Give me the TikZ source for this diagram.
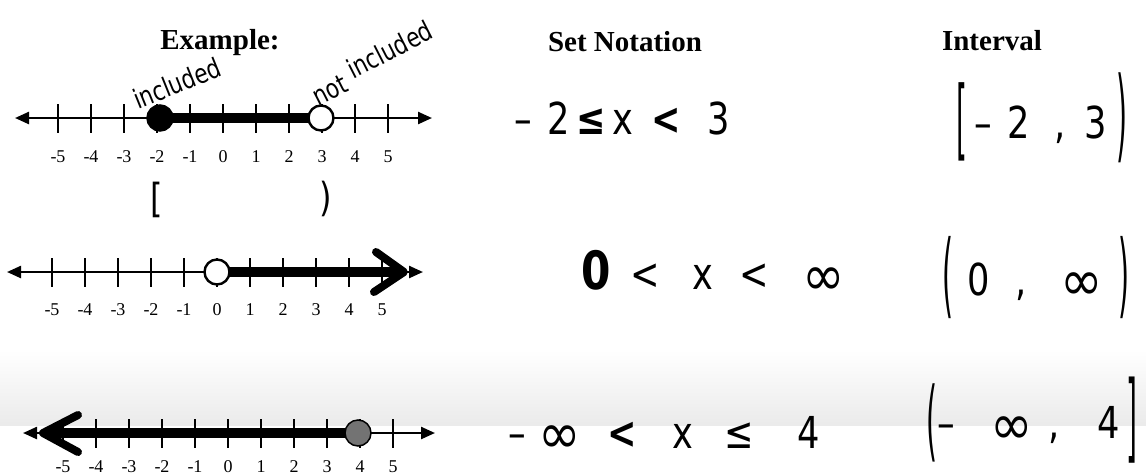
\documentclass[tikz,border=0pt]{standalone}
\usepackage{fontspec}
\setmainfont{Liberation Serif}
\newfontfamily\handfont{DejaVu Sans}[FakeStretch=0.8]
\usetikzlibrary{arrows.meta}

% tall handwritten brackets
\newcommand{\tallbr}[2][2]{\raisebox{-.26em}{\scalebox{0.8}[#1]{#2}}}
% wide handwritten infinity
\newcommand{\infy}{\raisebox{-.12em}{\scalebox{1.45}[1.3]{∞}}}

\tikzset{
  axis/.style={line width=2.4pt, {Triangle[length=14pt,width=12pt]}-{Triangle[length=14pt,width=12pt]}},
  tickmark/.style={line width=2pt},
  numlabel/.style={font=\fontsize{18}{18}\selectfont, inner sep=0pt},
  heading/.style={font=\fontsize{29}{29}\selectfont\bfseries, inner sep=0pt},
  hand/.style={font=\handfont\fontsize{44}{44}\selectfont, inner sep=0pt},
  note/.style={font=\handfont\fontsize{27}{27}\selectfont, inner sep=0pt},
  shaded/.style={line width=10pt},
  bigtip/.style={line width=8pt, line cap=round, line join=round},
  ptclosed/.style={circle, draw, line width=1.5pt, fill=black, minimum size=26pt, inner sep=0pt},
  ptopen/.style={circle, draw, line width=2.4pt, fill=white, minimum size=25pt, inner sep=0pt},
}

\begin{document}
\begin{tikzpicture}[x=1pt, y=-1pt]
    \useasboundingbox (0,0) rectangle (1146,475);

    % Shadow across the bottom row
    \shade[top color=white, bottom color=black!8] (0,350) rectangle (1146,425);

    % Column headings
    \node[heading] (example) at (220,43) {Example:};
    \node[heading] (setnot) at (625,42) {Set Notation};
    \node[heading] (interval) at (992,41) {Interval};

    % Ticks and numbers on the three lines
    \foreach \ly/\zx/\ny in {118/223/157, 272/217/310, 433/228/467} {
        \foreach \n in {-5,...,5} {
            \draw[tickmark] ({\zx+33*\n},\ly-14) -- ({\zx+33*\n},\ly+15);
            \node[numlabel] (lab\ly\n) at ({\zx+33*\n},\ny) {\n};
        }
    }

    % Line 1: -2 <= x < 3
    \coordinate (a1) at (15,118);
    \coordinate (b1) at (432,118);
    \coordinate (p1) at (160,118);
    \coordinate (q1) at (321,118);
    \draw[axis] (a1) -- (b1);
    \draw[shaded] (p1) -- (q1);
    \node[ptclosed] (dot1) at (p1) {};
    \node[ptopen] (ring1) at (q1) {};
    \node[note, rotate=22] (incl) at (177,83) {included};
    \node[note, rotate=27] (notincl) at (372,63) {not\hspace{.3em}\raisebox{.3em}{included}};
    \node[hand, font=\handfont\fontsize{40}{40}\selectfont] (lbr) at (157,200) {[};
    \node[hand, font=\handfont\fontsize{40}{40}\selectfont] (rbr) at (326,199) {)};

    % Line 2: 0 < x < infinity
    \coordinate (a2) at (7,272);
    \coordinate (b2) at (423,272);
    \coordinate (q2) at (217,272);
    \coordinate (e2) at (400,272);
    \draw[axis] (a2) -- (b2);
    \draw[shaded] (q2) -- (e2);
    \draw[bigtip] (376,252) -- (404,272) -- (374,292);
    \node[ptopen] (ring2) at (q2) {};

    % Line 3: -infinity < x <= 4
    \coordinate (a3) at (23,433);
    \coordinate (b3) at (435,433);
    \coordinate (e3) at (46,433);
    \coordinate (p3) at (358,433);
    \draw[axis] (a3) -- (b3);
    \draw[shaded] (e3) -- (p3);
    \draw[bigtip] (78,415) -- (43,433) -- (78,452);
    \node[ptclosed, fill=black!55] (dot3) at (p3) {};

    % Set notation
    \node[hand] (set1) at (622,118) {–\hspace{.35em}2\hspace{.15em}\textbf{≤}\hspace{.15em}x\hspace{.4em}\textbf{<}\hspace{.6em}3};
    \node[hand] (set2) at (713,273) {\scalebox{1.2}{\textbf{0}}\hspace{.45em}<\hspace{.75em}x\hspace{.6em}<\hspace{.75em}\infy};
    \node[hand] (set3) at (664,435) {–\hspace{.3em}\infy\hspace{.6em}\textbf{<}\hspace{.8em}x\hspace{.7em}≤\hspace{1em}4};

    % Interval notation
    \node[hand] (int1) at (1042,118) {\tallbr{[}\hspace{.15em}–\hspace{.35em}2\hspace{.55em},\hspace{.45em}3\hspace{.2em}\tallbr[2.3]{)}};
    \node[hand] (int2) at (1036,278) {\tallbr[2.1]{(}\hspace{.3em}0\hspace{.6em},\hspace{.75em}\infy\hspace{.35em}\tallbr[2.1]{)}};
    \node[hand] (int3) at (1032,420) {\tallbr{(}–\hspace{.8em}\infy\hspace{.35em},\hspace{.85em}4\hspace{.15em}\tallbr[2.2]{]}};
\end{tikzpicture}
\end{document}
